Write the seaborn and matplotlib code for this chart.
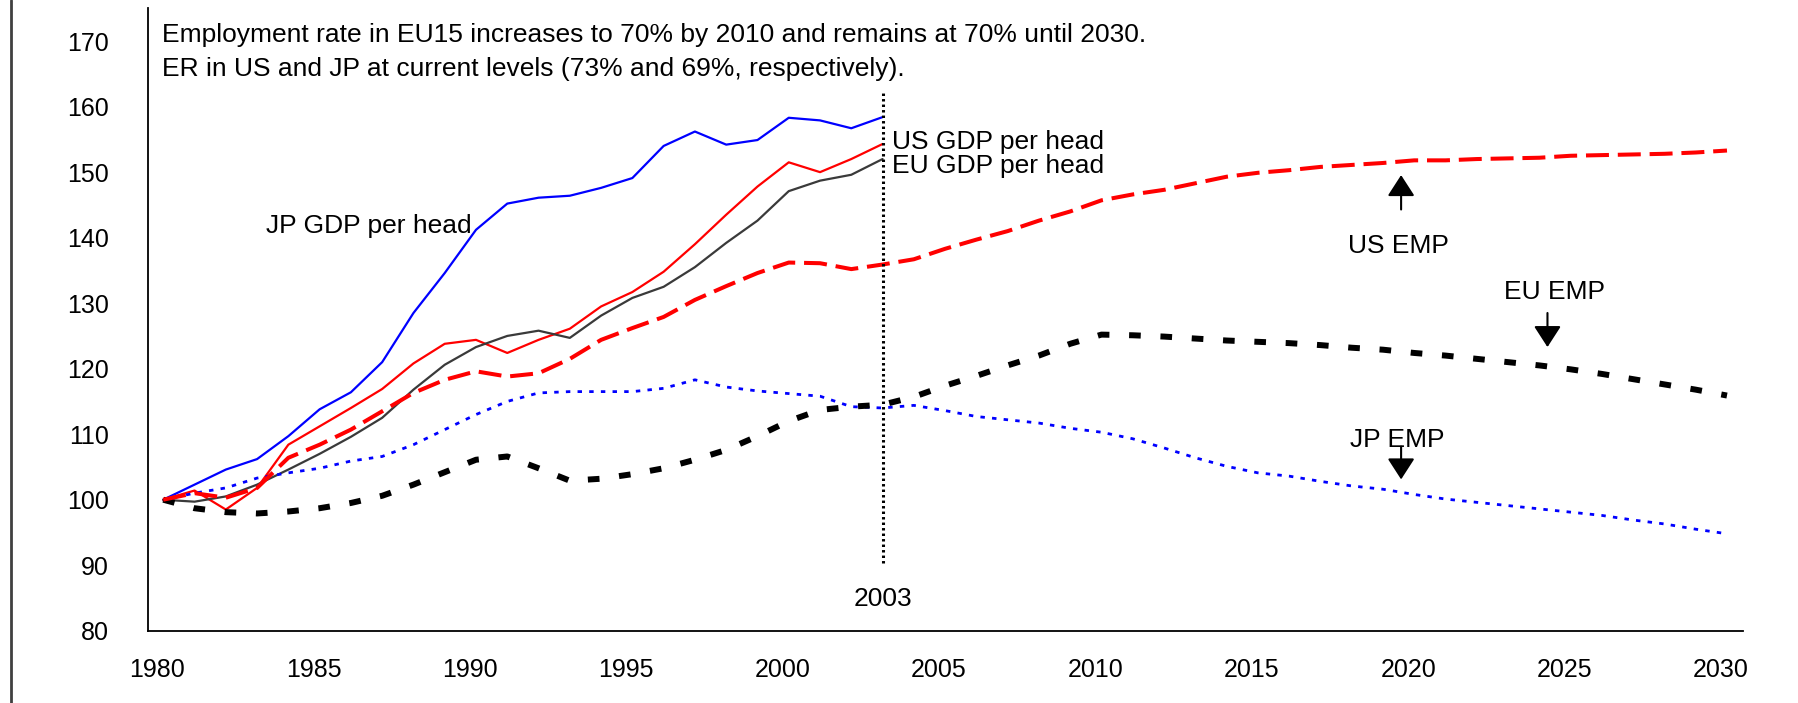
import numpy as np
import matplotlib
matplotlib.use("Agg")
import matplotlib.pyplot as plt
import matplotlib.transforms as mtransforms
from matplotlib.lines import Line2D
from matplotlib.ticker import FixedLocator
import seaborn as sns

# Данные (индекс 1980 = 100)
years = list(range(1980, 2031))
gdp_years = list(range(1980, 2004))
label_years = list(range(1980, 2031, 5))

jp_gdp = [100, 102.3, 104.6, 106.2, 109.7, 113.8, 116.4, 121.0, 128.5, 134.6, 141.2, 145.2,
          146.1, 146.4, 147.6, 149.1, 154.0, 156.2, 154.2, 154.9, 158.3, 157.9, 156.7, 158.4]
us_gdp = [100, 101.4, 98.5, 101.8, 108.4, 111.2, 114.0, 116.9, 120.8, 123.8, 124.4, 122.4,
          124.4, 126.1, 129.5, 131.7, 134.8, 139.0, 143.5, 147.8, 151.5, 150.0, 152.0, 154.3]
eu_gdp = [100, 99.7, 100.5, 102.3, 104.6, 107.0, 109.6, 112.5, 116.8, 120.6, 123.3, 125.0,
          125.8, 124.7, 128.1, 130.8, 132.5, 135.5, 139.2, 142.6, 147.1, 148.7, 149.6, 152.0]

us_emp = [100, 101.0, 100.3, 101.8, 106.4, 108.4, 110.7, 113.5, 116.3, 118.3, 119.6, 118.8,
          119.3, 121.5, 124.4, 126.2, 127.9, 130.5, 132.6, 134.6, 136.2, 136.1, 135.2, 135.9,
          136.7, 138.3, 139.7, 141.0, 142.6, 144.0, 145.7, 146.6, 147.3, 148.3, 149.3, 149.9,
          150.3, 150.8, 151.1, 151.4, 151.8, 151.8, 152.0, 152.1, 152.2, 152.5, 152.6, 152.7,
          152.8, 153.0, 153.3]
eu_emp = [100, 98.7, 98.1, 97.9, 98.2, 98.7, 99.5, 100.6, 102.3, 104.2, 106.1, 106.6,
          104.8, 102.9, 103.2, 103.9, 104.8, 106.1, 107.6, 109.7, 112.0, 113.7, 114.2, 114.5,
          115.7, 117.4, 118.9, 120.5, 122.0, 123.8, 125.2, 125.1, 124.9, 124.6, 124.3, 124.1,
          123.9, 123.6, 123.2, 122.9, 122.4, 122.0, 121.5, 121.0, 120.5, 119.9, 119.2, 118.4,
          117.6, 116.8, 115.9]
jp_emp = [100, 101.0, 101.8, 103.3, 104.1, 104.8, 105.9, 106.6, 108.4, 110.7, 113.0, 115.0,
          116.3, 116.5, 116.5, 116.5, 117.0, 118.3, 117.2, 116.6, 116.2, 115.8, 114.2, 114.0,
          114.4, 113.6, 112.7, 112.2, 111.7, 110.9, 110.3, 109.3, 107.9, 106.4, 105.1, 104.1,
          103.6, 102.8, 102.1, 101.6, 100.8, 100.1, 99.6, 99.1, 98.6, 98.1, 97.6, 96.9,
          96.3, 95.5, 94.8]

base_year = 2003
note_lines = ["Employment rate in EU15 increases to 70% by 2010 and remains at 70% until 2030.",
              "ER in US and JP at current levels (73% and 69%, respectively)."]

sns.set_style("white")
plt.rcParams['font.family'] = ['Liberation Sans', 'DejaVu Sans']
plt.rcParams['text.color'] = 'black'
plt.rcParams['xtick.color'] = 'black'
plt.rcParams['ytick.color'] = 'black'
FS = 19      # подписи на графике
TFS = 18     # подписи делений

fig = plt.figure(figsize=(17.98, 7.03), dpi=100)
ax = fig.add_axes([0.0821, 0.1028, 0.8871, 0.8853])

# Линии ВВП на душу населения
sns.lineplot(x=gdp_years, y=jp_gdp, color='#0000ff', lw=1.6, ax=ax)
sns.lineplot(x=gdp_years, y=us_gdp, color='#ff0000', lw=1.6, ax=ax)
sns.lineplot(x=gdp_years, y=eu_gdp, color='#3a3a3a', lw=1.6, ax=ax)

# Линии занятости
sns.lineplot(x=years, y=jp_emp, color='#0000ff', lw=2.0, linestyle=(0, (1.6, 2.6)), ax=ax)
sns.lineplot(x=years, y=eu_emp, color='#000000', lw=4.3, linestyle=(0, (1.95, 3.3)), ax=ax)
sns.lineplot(x=years, y=us_emp, color='#ff0000', lw=2.9, linestyle=(0, (5.7, 2.2)), ax=ax)

# Вертикальная линия 2003
ax.vlines(base_year, 90.3, 162.3, colors='black', linestyles=(0, (0.8, 1.0)), lw=2.2)
ax.text(base_year, 83.7, str(base_year), ha='center', va='baseline', fontsize=FS)

# Подписи
ax.text(1979.95, 169.9, note_lines[0], ha='left', va='baseline', fontsize=FS)
ax.text(1979.95, 164.6, note_lines[1], ha='left', va='baseline', fontsize=FS)
ax.text(1983.3, 140.7, "JP GDP per head", ha='left', va='baseline', fontsize=FS)
ax.text(2003.3, 153.5, "US GDP per head", ha='left', va='baseline', fontsize=FS)
ax.text(2003.3, 149.8, "EU GDP per head", ha='left', va='baseline', fontsize=FS)
ax.text(2019.5, 137.6, "US EMP", ha='center', va='baseline', fontsize=FS)
ax.text(2024.5, 130.7, "EU EMP", ha='center', va='baseline', fontsize=FS)
ax.text(2019.45, 108.1, "JP EMP", ha='center', va='baseline', fontsize=FS)

arrow = dict(arrowstyle='-|>,head_length=0.65,head_width=0.42', mutation_scale=20,
             color='black', lw=1.5, shrinkA=0, shrinkB=0)
ax.annotate('', xy=(2019.58, 149.55), xytext=(2019.58, 144.3), arrowprops=arrow)
ax.annotate('', xy=(2024.26, 123.3), xytext=(2024.26, 128.5), arrowprops=arrow)
ax.annotate('', xy=(2019.58, 103.1), xytext=(2019.58, 108.1), arrowprops=arrow)

# Оси
ax.set_xlim(1979.5, 2030.5)
ax.set_ylim(80, 175)
ax.set_yticks(range(80, 171, 10))
ax.set_xticks(label_years)
ax.set_xticklabels([str(y) for y in label_years])
ax.xaxis.set_minor_locator(FixedLocator(np.arange(1979.5, 2031, 1)))
ax.tick_params(axis='x', which='major', length=0, pad=19.5, labelsize=TFS, labelcolor='black')
ax.tick_params(axis='x', which='minor', length=6.8, width=1.1, color='#404040', direction='out')
ax.tick_params(axis='y', length=7.9, width=1.1, color='#404040', direction='out', pad=20,
               labelsize=TFS, labelcolor='black')
ax.set_xlabel('')
ax.set_ylabel('')
sns.despine(ax=ax)
for side in ['left', 'bottom']:
    ax.spines[side].set_color('black')
    ax.spines[side].set_linewidth(1.3)

shift = mtransforms.ScaledTranslation(-6 / 100, 0, fig.dpi_scale_trans)
for lbl in ax.get_xticklabels():
    lbl.set_transform(lbl.get_transform() + shift)

fig.add_artist(Line2D([0.006, 0.006], [0, 1], transform=fig.transFigure, color='#404040', lw=2))

fig.savefig('out.png', dpi=100)
